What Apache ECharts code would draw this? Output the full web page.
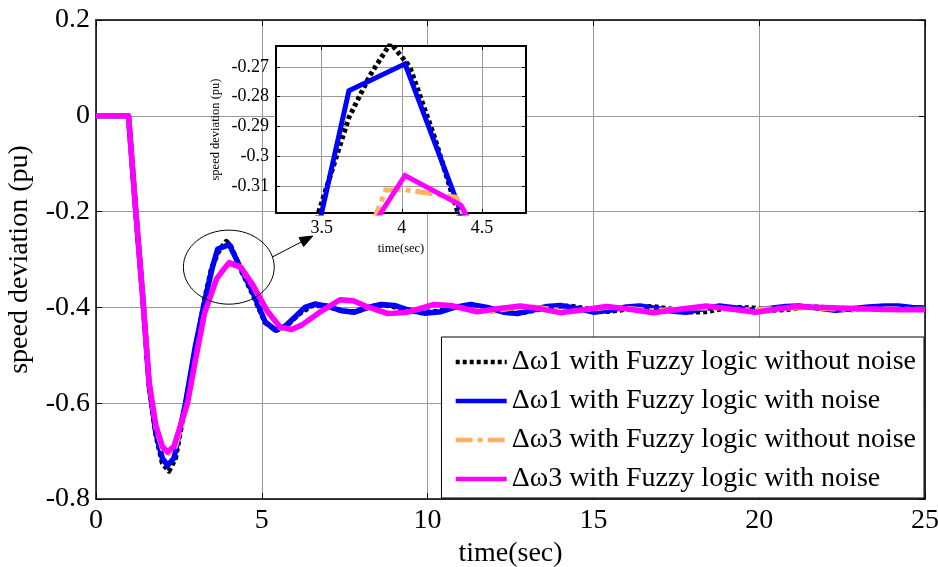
<!DOCTYPE html>
<html><head><meta charset="utf-8">
<script src="https://cdn.jsdelivr.net/npm/echarts@6/dist/echarts.min.js"></script>
<style>html,body{margin:0;padding:0;background:#fff}#c{width:938px;height:567px}</style>
</head><body><div id="c"></div>
<script>
// ---------- data ----------
const seriesNames = [
  '\u0394\u03c91 with Fuzzy logic without noise',
  '\u0394\u03c91 with Fuzzy logic with noise',
  '\u0394\u03c93 with Fuzzy logic without noise',
  '\u0394\u03c93 with Fuzzy logic with noise'
];
const seriesColors = ['#000000', '#0000ff', '#ffb060', '#ff00ff'];

const timeW1Clean = [0, 0.98, 1.2, 1.4, 1.6, 1.8, 2.0, 2.2, 2.4, 2.7, 3.0, 3.3, 3.48, 3.67, 3.8, 3.93, 4.05, 4.2, 4.35, 4.74, 5.1, 5.45, 5.8, 6.1, 6.5, 6.9, 7.3, 7.7, 8.1, 8.5, 8.9, 9.3, 9.8, 10.3, 10.8, 11.3, 11.8, 12.3, 12.8, 13.3, 13.8, 14.3, 14.8, 15.3, 15.8, 16.3, 16.8, 17.3, 17.8, 18.3, 18.8, 19.3, 19.8, 20.3, 20.8, 21.3, 21.8, 22.3, 22.8, 23.3, 23.8, 24.3, 25];
const valW1Clean = [0, 0, -0.2, -0.37, -0.56, -0.665, -0.725, -0.742, -0.715, -0.6, -0.485, -0.375, -0.319, -0.287, -0.273, -0.262, -0.27, -0.293, -0.319, -0.375, -0.432, -0.448, -0.435, -0.415, -0.397, -0.396, -0.405, -0.41, -0.403, -0.395, -0.397, -0.405, -0.411, -0.408, -0.4, -0.396, -0.401, -0.41, -0.412, -0.405, -0.398, -0.397, -0.403, -0.409, -0.406, -0.4, -0.398, -0.403, -0.409, -0.41, -0.404, -0.4, -0.401, -0.406, -0.405, -0.4, -0.399, -0.402, -0.405, -0.402, -0.399, -0.4, -0.402];

const timeW1Noise = [0, 0.98, 1.2, 1.4, 1.6, 1.8, 2.0, 2.16, 2.35, 2.7, 3.0, 3.3, 3.5, 3.67, 4.02, 4.37, 4.74, 5.1, 5.4, 5.7, 6.0, 6.3, 6.6, 7.0, 7.4, 7.8, 8.2, 8.6, 9.0, 9.4, 9.9, 10.4, 10.8, 11.3, 11.8, 12.3, 12.7, 13.2, 13.6, 14.0, 14.5, 15.0, 15.5, 16.0, 16.4, 16.9, 17.4, 17.8, 18.3, 18.8, 19.3, 19.8, 20.3, 20.8, 21.2, 21.7, 22.3, 22.8, 23.3, 23.8, 24.2, 24.6, 25];
const valW1Noise = [0, 0, -0.2, -0.37, -0.56, -0.66, -0.715, -0.73, -0.715, -0.6, -0.48, -0.38, -0.319, -0.278, -0.269, -0.319, -0.37, -0.43, -0.447, -0.44, -0.42, -0.4, -0.393, -0.398, -0.407, -0.41, -0.4, -0.394, -0.396, -0.405, -0.412, -0.409, -0.4, -0.394, -0.4, -0.41, -0.413, -0.405, -0.398, -0.396, -0.402, -0.41, -0.406, -0.399, -0.397, -0.402, -0.408, -0.41, -0.403, -0.397, -0.401, -0.406, -0.402, -0.398, -0.397, -0.401, -0.406, -0.403, -0.399, -0.397, -0.397, -0.4, -0.401];

const timeW3Clean = [0, 0.98, 1.2, 1.4, 1.6, 1.8, 2.0, 2.2, 2.4, 2.76, 3.0, 3.27, 3.6, 3.844, 3.9, 4.02, 4.34, 4.4, 4.74, 5.15, 5.55, 5.9, 6.2, 6.75, 7.3, 7.8, 8.3, 8.9, 9.5, 10.1, 10.7, 11.3, 11.9, 12.5, 13.1, 13.7, 14.3, 14.9, 15.5, 16.1, 16.7, 17.3, 17.9, 18.5, 19.1, 19.7, 20.3, 20.9, 21.5, 22.1, 22.7, 23.3, 23.9, 24.5, 25];
const valW3Clean = [0, 0, -0.2, -0.37, -0.555, -0.65, -0.695, -0.705, -0.69, -0.6, -0.51, -0.413, -0.345, -0.319, -0.3114, -0.3113, -0.3138, -0.322, -0.356, -0.41, -0.443, -0.446, -0.437, -0.41, -0.386, -0.387, -0.404, -0.413, -0.408, -0.396, -0.396, -0.405, -0.409, -0.402, -0.398, -0.404, -0.409, -0.404, -0.399, -0.402, -0.407, -0.405, -0.401, -0.401, -0.404, -0.405, -0.403, -0.401, -0.401, -0.403, -0.404, -0.404, -0.403, -0.404, -0.404];

const timeW3Noise = [0, 0.98, 1.2, 1.4, 1.6, 1.8, 2.0, 2.16, 2.35, 2.76, 3.0, 3.27, 3.64, 3.87, 4.02, 4.37, 4.74, 5.15, 5.55, 5.9, 6.2, 6.75, 7.36, 7.76, 8.2, 8.8, 9.4, 10.17, 10.7, 11.5, 12.1, 12.8, 13.4, 14.0, 14.7, 15.4, 16.1, 16.8, 17.6, 18.4, 19.2, 19.9, 20.5, 21.1, 21.9, 22.7, 23.5, 24.3, 25];
const valW3Noise = [0, 0, -0.2, -0.37, -0.555, -0.645, -0.69, -0.702, -0.69, -0.6, -0.51, -0.413, -0.34, -0.319, -0.3065, -0.3165, -0.354, -0.406, -0.441, -0.446, -0.437, -0.41, -0.384, -0.386, -0.399, -0.413, -0.41, -0.394, -0.396, -0.409, -0.403, -0.397, -0.403, -0.411, -0.405, -0.398, -0.404, -0.411, -0.404, -0.397, -0.404, -0.41, -0.404, -0.398, -0.4, -0.402, -0.404, -0.405, -0.405];

const mainXRange = [0, 25];
const mainYRange = [-0.8, 0.2];
const insetXRange = [3.215, 4.775];
const insetYRange = [-0.3191, -0.263];
const insetXTicks = [3.5, 4, 4.5];
const insetYTicks = [-0.31, -0.3, -0.29, -0.28, -0.27];
const xAxisTitle = 'time(sec)';
const yAxisTitle = 'speed deviation (pu)';

// ---------- chart ----------
const FONT = '"Liberation Serif", "Times New Roman", serif';
const pairs = (t, v) => t.map((x, i) => [x, v[i]]);
const allData = [
  pairs(timeW1Clean, valW1Clean),
  pairs(timeW1Noise, valW1Noise),
  pairs(timeW3Clean, valW3Clean),
  pairs(timeW3Noise, valW3Noise)
];
const lineTypes = [[4, 3], 'solid', [17, 5, 5, 5], 'solid'];
const lineWidths = [5, 5.5, 5, 5.5];

const chart = echarts.init(document.getElementById('c'), null, {renderer: 'canvas'});

const gridColor = '#9a9a9a';
function axisCommon(extra) {
  return Object.assign({
    axisLine: {show: true, onZero: false, lineStyle: {color: '#000', width: 1.5}},
    axisTick: {show: true, inside: true, length: 6, lineStyle: {color: '#000', width: 1}},
    splitLine: {show: false}
  }, extra);
}

const series = [];
allData.forEach((d, i) => {
  series.push({
    name: seriesNames[i], type: 'line', xAxisIndex: 0, yAxisIndex: 0,
    data: d, symbol: 'none', showSymbol: false, animation: false, z: 2 + i * 0.1,
    lineStyle: {color: seriesColors[i], width: lineWidths[i], type: lineTypes[i], cap: 'butt', join: 'round'},
    itemStyle: {color: seriesColors[i]}
  });
});
allData.forEach((d, i) => {
  series.push({
    name: seriesNames[i], type: 'line', xAxisIndex: 2, yAxisIndex: 2,
    data: d, symbol: 'none', showSymbol: false, animation: false, clip: true, z: 8 + i * 0.1,
    lineStyle: {color: seriesColors[i], width: 5, type: lineTypes[i], cap: 'butt', join: 'miter'},
    itemStyle: {color: seriesColors[i]}
  });
});

chart.setOption({
  backgroundColor: '#fff',
  animation: false,
  textStyle: {fontFamily: FONT},
  grid: [
    {left: 96, right: 13, top: 20, bottom: 68, outerBoundsMode: 'none', containLabel: false},
    {left: 276, right: 412, top: 46, bottom: 354, show: true, backgroundColor: '#fff', borderWidth: 0, z: 5, outerBoundsMode: 'none', containLabel: false}
  ],
  xAxis: [
    axisCommon({
      gridIndex: 0, type: 'value', position: 'bottom', min: mainXRange[0], max: mainXRange[1], interval: 5,
      axisLabel: {color: '#000', fontSize: 28, fontFamily: FONT, margin: 8},
      splitLine: {show: true, lineStyle: {color: gridColor, width: 1}},
      name: xAxisTitle, nameLocation: 'middle', nameGap: 38,
      nameTextStyle: {color: '#000', fontSize: 28, fontFamily: FONT}
    }),
    axisCommon({
      gridIndex: 0, type: 'value', position: 'top', min: mainXRange[0], max: mainXRange[1], interval: 5,
      axisLabel: {show: false}
    }),
    axisCommon({
      gridIndex: 1, type: 'value', position: 'bottom', min: insetXRange[0], max: insetXRange[1], z: 6,
      axisLine: {show: true, onZero: false, lineStyle: {color: '#000', width: 2}},
      axisTick: {show: true, inside: true, length: 4, customValues: insetXTicks, lineStyle: {color: '#000'}},
      axisLabel: {color: '#000', fontSize: 18, fontFamily: FONT, margin: 6, customValues: insetXTicks},
      splitLine: {show: true, lineStyle: {color: gridColor, width: 1}},
      name: xAxisTitle, nameLocation: 'middle', nameGap: 29,
      nameTextStyle: {color: '#000', fontSize: 12.5, fontFamily: FONT}
    }),
    axisCommon({
      gridIndex: 1, type: 'value', position: 'top', min: insetXRange[0], max: insetXRange[1], z: 6,
      axisLine: {show: true, onZero: false, lineStyle: {color: '#000', width: 2}},
      axisTick: {show: true, inside: true, length: 4, customValues: insetXTicks, lineStyle: {color: '#000'}},
      axisLabel: {show: false}
    })
  ],
  yAxis: [
    axisCommon({
      gridIndex: 0, type: 'value', position: 'left', min: mainYRange[0], max: mainYRange[1], interval: 0.2,
      axisLabel: {color: '#000', fontSize: 28, fontFamily: FONT, margin: 6},
      splitLine: {show: true, lineStyle: {color: gridColor, width: 1}},
      name: yAxisTitle, nameLocation: 'middle', nameGap: 62,
      nameTextStyle: {color: '#000', fontSize: 28, fontFamily: FONT}
    }),
    axisCommon({
      gridIndex: 0, type: 'value', position: 'right', min: mainYRange[0], max: mainYRange[1], interval: 0.2,
      axisLabel: {show: false}
    }),
    axisCommon({
      gridIndex: 1, type: 'value', position: 'left', min: insetYRange[0], max: insetYRange[1], z: 6,
      axisLine: {show: true, onZero: false, lineStyle: {color: '#000', width: 2}},
      axisTick: {show: true, inside: true, length: 4, customValues: insetYTicks, lineStyle: {color: '#000'}},
      axisLabel: {color: '#000', fontSize: 18, fontFamily: FONT, margin: 7, customValues: insetYTicks},
      splitLine: {show: true, lineStyle: {color: gridColor, width: 1}},
      name: yAxisTitle, nameLocation: 'middle', nameGap: 54,
      nameTextStyle: {color: '#000', fontSize: 12.5, fontFamily: FONT}
    }),
    axisCommon({
      gridIndex: 1, type: 'value', position: 'right', min: insetYRange[0], max: insetYRange[1], z: 6,
      axisLine: {show: true, onZero: false, lineStyle: {color: '#000', width: 2}},
      axisTick: {show: true, inside: true, length: 4, customValues: insetYTicks, lineStyle: {color: '#000'}},
      axisLabel: {show: false}
    })
  ],
  legend: {
    orient: 'vertical', right: 14, top: 337,
    data: seriesNames,
    itemWidth: 51, itemHeight: 14, itemGap: 9,
    padding: [10, 8, 4, 12],
    backgroundColor: '#fff', borderColor: '#000', borderWidth: 1, borderRadius: 0,
    textStyle: {color: '#000', fontSize: 28, fontFamily: FONT, lineHeight: 30},
    lineStyle: {width: 4.5},
    itemStyle: {opacity: 0, borderWidth: 0},
    selectedMode: false, z: 4
  },
  series: series
});

// annotation: ellipse around the zoomed peak and an arrow to the inset
const ellCenter = chart.convertToPixel({seriesIndex: 0}, [4.005, -0.316]);
const ellCorner = chart.convertToPixel({seriesIndex: 0}, [4.005 + 1.37, -0.316 - 0.0773]);
const arrFrom = chart.convertToPixel({seriesIndex: 0}, [5.31, -0.295]);
const arrTo = chart.convertToPixel({seriesIndex: 0}, [6.54, -0.251]);
const ang = Math.atan2(arrTo[1] - arrFrom[1], arrTo[0] - arrFrom[0]);
const L = 13, W = 5;
const bx = arrTo[0] - L * Math.cos(ang), by = arrTo[1] - L * Math.sin(ang);
const head = [
  [arrTo[0], arrTo[1]],
  [bx + W * Math.sin(ang), by - W * Math.cos(ang)],
  [bx - W * Math.sin(ang), by + W * Math.cos(ang)]
];
chart.setOption({
  graphic: [
    {type: 'ellipse', z: 20, shape: {cx: ellCenter[0], cy: ellCenter[1], rx: ellCorner[0] - ellCenter[0], ry: ellCorner[1] - ellCenter[1]},
     style: {fill: 'none', stroke: '#000', lineWidth: 1}},
    {type: 'line', z: 20, shape: {x1: arrFrom[0], y1: arrFrom[1], x2: bx, y2: by}, style: {stroke: '#000', lineWidth: 1}},
    {type: 'polygon', z: 20, shape: {points: head}, style: {fill: '#000', stroke: '#000', lineWidth: 1}}
  ]
});
</script>
</body></html>
